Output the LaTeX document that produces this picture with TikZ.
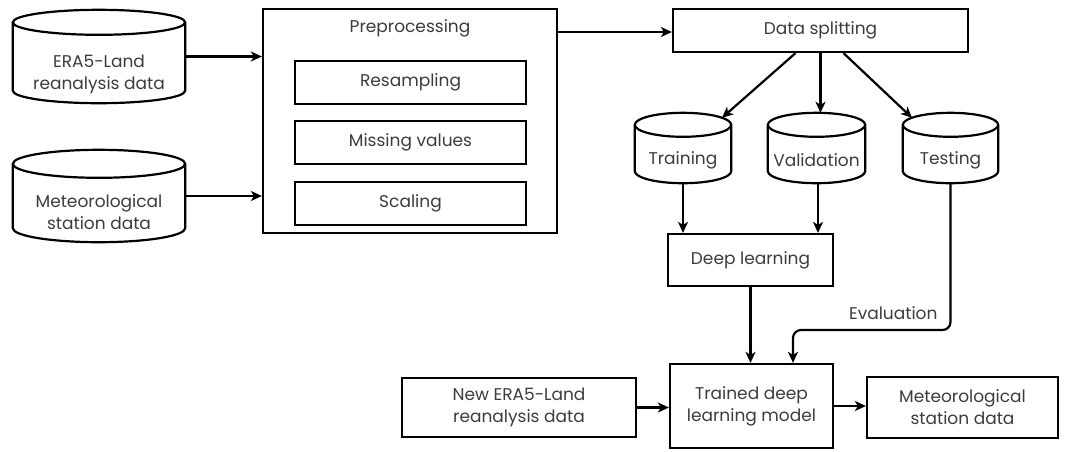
\documentclass[tikz,border=0pt]{standalone}
\usepackage{fontspec}
\setmainfont{Poppins}
\usetikzlibrary{arrows.meta,calc}
\definecolor{ink}{HTML}{3C3C3C}
\tikzset{
  line/.style={line width=2.2pt, black},
  arrow/.style={line, -{Stealth[length=11pt,width=10pt,inset=3pt]}},
  txt/.style={font=\fontsize{17}{22}\selectfont, text=ink, align=center},
  box/.style={draw, line width=2.2pt, txt, inner sep=0pt},
  drum/.style={inner sep=0pt},
}
% outline of a drum (cylinder) around a node; #2 is the cap radius
\newcommand{\drumline}[2]{%
  \draw[line] let \p1=(#1.north west), \p2=(#1.south east), \n1={(\x2-\x1)/2} in
    (\x1,\y1-#2) -- (\x1,\y2+#2)
    arc[start angle=180, end angle=360, x radius=\n1, y radius=#2]
    -- (\x2,\y1-#2)
    arc[start angle=0, end angle=180, x radius=\n1, y radius=#2]
    arc[start angle=180, end angle=360, x radius=\n1, y radius=#2];}
\begin{document}
\begin{tikzpicture}[x=1pt,y=-1pt]
\useasboundingbox (0,0) rectangle (1067,451);

% data sources
\node[drum, minimum width=172pt, minimum height=93pt] (era) at (99,56.5) {};
\drumline{era}{12.5pt}
\node[txt] (eraT) at ($(era.center)+(0,18)$) {ERA5-Land\\reanalysis data};
\node[drum, minimum width=172pt, minimum height=92pt] (met) at (99,196) {};
\drumline{met}{14pt}
\node[txt] (metT) at ($(met.center)+(0,16)$) {Meteorological\\station data};

% preprocessing block
\node[box, minimum width=294pt, minimum height=224pt] (prep) at (410,121) {};
\node[txt] (prepT) at (410,28) {Preprocessing};
\node[box, minimum width=231pt, minimum height=43pt] (res) at (410.5,82.5) {Resampling};
\node[box, minimum width=231pt, minimum height=43pt] (mis) at (410.5,142.5) {Missing values};
\node[box, minimum width=231pt, minimum height=43pt] (sca) at (410.5,203.5) {Scaling};

% splitting
\node[box, minimum width=295pt, minimum height=43pt] (split) at (820.5,30.5) {Data splitting};
\node[drum, minimum width=96pt, minimum height=70pt] (trn) at (683,148) {};
\drumline{trn}{12pt}
\node[txt] (trnT) at ($(trn.center)+(0,12)$) {Training};
\node[drum, minimum width=97pt, minimum height=70pt] (val) at (816.5,148) {};
\drumline{val}{12pt}
\node[txt] (valT) at ($(val.center)+(0,12)$) {Validation};
\node[drum, minimum width=95pt, minimum height=70pt] (tst) at (950.5,148) {};
\drumline{tst}{12pt}
\node[txt] (tstT) at ($(tst.center)+(0,12)$) {Testing};

% model
\node[box, minimum width=165pt, minimum height=52pt] (deep) at (750.5,260) {Deep learning};
\node[box, minimum width=163pt, minimum height=84pt] (trained) at (751.5,406) {Trained deep\\learning model};
\node[box, minimum width=234pt, minimum height=59pt] (newera) at (519,407.5) {New ERA5-Land\\reanalysis data};
\node[box, minimum width=191pt, minimum height=61pt] (metout) at (962.5,407.5) {Meteorological\\station data};

% connector end points
\coordinate (splitIn) at ($(split.west)+(0,1.5)$);
\coordinate (valOut) at ($(val.south)+(1.5,0)$);
\coordinate (bend) at (793,330);

% connectors
\draw[arrow] (era.east) -- (era.east -| prep.west);
\draw[arrow] (met.east) -- (met.east -| prep.west);
\draw[arrow] (splitIn -| prep.east) -- (splitIn);
\draw[arrow] ($(split.south)+(-25,0)$) -- ($(trn.north)+(39,5)$);
\draw[arrow] (split.south) -- (split.south |- val.north);
\draw[arrow] ($(split.south)+(23,0)$) -- ($(tst.north)+(-38.5,5)$);
\draw[arrow] (trn.south) -- (trn.south |- deep.north);
\draw[arrow] (valOut) -- (valOut |- deep.north);
\draw[arrow] (deep.south) -- (deep.south |- trained.north);
\draw[arrow, rounded corners=8pt] (tst.south) |- (bend) -- (bend |- trained.north);
\node[txt, anchor=east] (evalT) at (941,313) {Evaluation};
\draw[arrow] (newera.east) -- (newera.east -| trained.west);
\draw[arrow] (trained.east) -- (trained.east -| metout.west);
\end{tikzpicture}
\end{document}
